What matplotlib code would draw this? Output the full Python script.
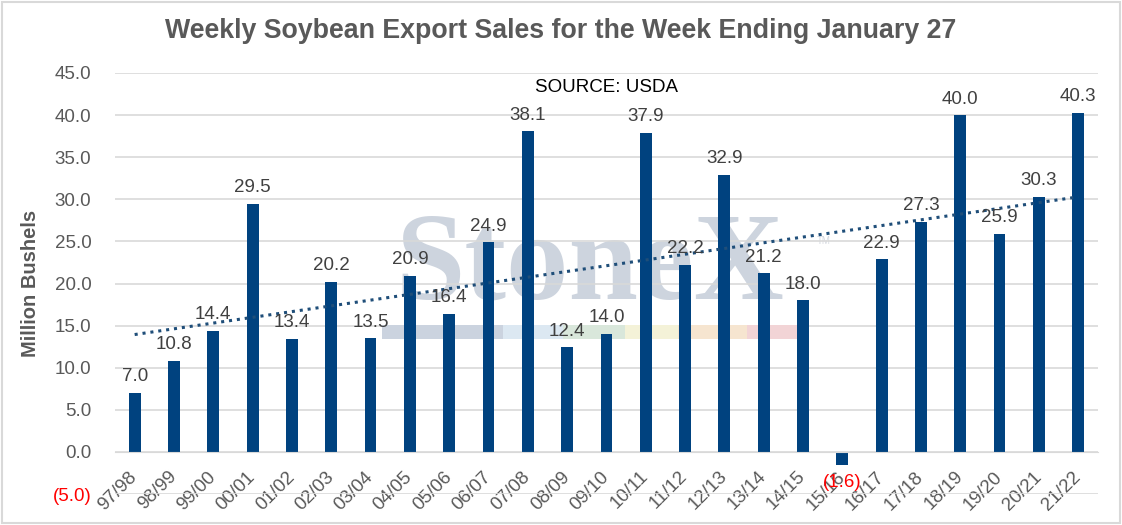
import matplotlib.pyplot as plt
from matplotlib.patches import Rectangle
import numpy as np

plt.rcParams['font.family'] = ['Liberation Sans', 'DejaVu Sans']

# data
seasons = ["97/98", "98/99", "99/00", "00/01", "01/02", "02/03", "03/04", "04/05",
           "05/06", "06/07", "07/08", "08/09", "09/10", "10/11", "11/12", "12/13",
           "13/14", "14/15", "15/16", "16/17", "17/18", "18/19", "19/20", "20/21", "21/22"]
sales = [7.0, 10.8, 14.4, 29.5, 13.4, 20.2, 13.5, 20.9, 16.4, 24.9, 38.1, 12.4, 14.0,
         37.9, 22.2, 32.9, 21.2, 18.0, -1.6, 22.9, 27.3, 40.0, 25.9, 30.3, 40.3]
yticks = [-5, 0, 5, 10, 15, 20, 25, 30, 35, 40, 45]

bar_color = "#00427F"
grey = "#595959"
fs = 13.5

fig = plt.figure(figsize=(11.22, 5.25), dpi=100)
ax = fig.add_axes([0.1025, 0.059, 0.876, 0.802])

x = np.arange(len(seasons))

# watermark (logo)
ax.text(0.483, 0.535, "StoneX", transform=ax.transAxes, ha="center", va="center",
        fontsize=90, fontweight="bold", family="Liberation Serif",
        color="#CDD4DE", zorder=0.5)
ax.text(0.714, 0.6, "TM", transform=ax.transAxes, ha="left", va="center",
        fontsize=7, color="#D5D9E0", zorder=0.5)
strip = ["#CBD3DF", "#DCE8F2", "#D9E7DB", "#F4F2D8", "#F6E5D0", "#F2D4D6"]
strip_w = [0.123, 0.061, 0.063, 0.054, 0.070, 0.051]
sx = 0.272
for c, w in zip(strip, strip_w):
    ax.add_patch(Rectangle((sx, 0.368), w, 0.033, transform=ax.transAxes,
                           color=c, zorder=0.6, lw=0))
    sx += w

ax.bar(x, sales, width=0.3, color=bar_color, zorder=2)

# linear trendline
k, b = np.polyfit(x, sales, 1)
ax.plot(x, k * x + b, linestyle=(0, (1, 1.6)), color="#1F4E79", lw=2.2, zorder=3)

for xi, v in zip(x, sales):
    if v >= 0:
        ax.text(xi, v + 0.9, f"{v:.1f}", ha="center", va="bottom", fontsize=fs, color="#404040", zorder=4)
    else:
        ax.text(xi, v - 1.0, f"({abs(v):.1f})", ha="center", va="top", fontsize=fs, color="red", zorder=4)

ax.set_xlim(-0.5, len(seasons) - 0.5)
ax.set_ylim(-5, 45)
ax.set_yticks(yticks)
ax.set_yticklabels([f"{t:.1f}" if t >= 0 else f"({abs(t):.1f})" for t in yticks], fontsize=fs, color=grey)
ax.get_yticklabels()[0].set_color("red")
ax.yaxis.grid(True, color="#D9D9D9", lw=1.2, zorder=0)
ax.set_axisbelow(True)

ax.spines["bottom"].set_position(("data", 0))
ax.spines["bottom"].set_color("#D9D9D9")
for s in ["top", "right", "left"]:
    ax.spines[s].set_visible(False)
ax.set_xticks(x)
ax.set_xticklabels(seasons, rotation=45, ha="right", va="center", rotation_mode="anchor",
                   fontsize=fs, color=grey)
ax.tick_params(axis="both", length=0)
ax.tick_params(axis="x", pad=16)
ax.tick_params(axis="y", pad=17)

ax.set_ylabel("Million Bushels", fontsize=14.5, fontweight="bold", color=grey)
ax.yaxis.set_label_coords(-0.076, 0.5)
fig.text(0.5, 0.94, "Weekly Soybean Export Sales for the Week Ending January 27",
         ha="center", va="center", fontsize=19.3, fontweight="bold", color=grey)
ax.text(0.5, 43.3, "SOURCE: USDA", transform=ax.get_yaxis_transform(), ha="center",
        va="center", fontsize=fs, color="black")

fig.patches.append(Rectangle((0.002, 0.004), 0.996, 0.992, transform=fig.transFigure,
                             fill=False, edgecolor="#D9D9D9", lw=1.5))

fig.savefig("out.png", dpi=100)
